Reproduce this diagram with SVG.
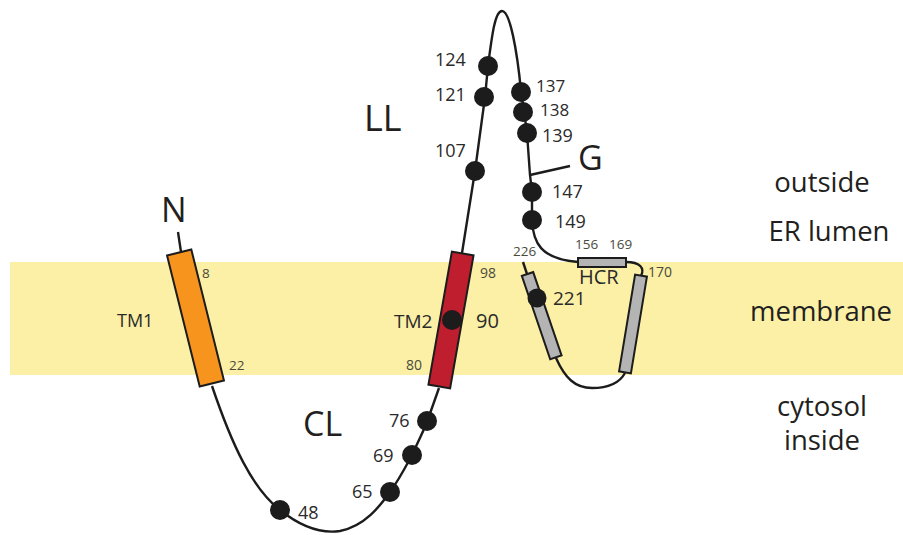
<svg xmlns="http://www.w3.org/2000/svg" width="903" height="535" viewBox="0 0 903 535">
  <style>
    .chain { fill: none; stroke: #1c1c1c; stroke-width: 2.4; }
    .site { fill: #1c1c1c; }
    .lbl { font-family: "Open Sans", "Liberation Sans", sans-serif; fill: #2a2a2a; }
    .num { font-size: 18px; }
    .tight { font-size: 17px; }
    .small { font-size: 13.5px; fill: #4a4a3c; }
    .big { font-size: 34px; fill: #231f20; }
    .side { font-size: 27.5px; fill: #231f20; text-anchor: middle; }
    .seg { stroke: #1c1c1c; stroke-width: 2; }
  </style>

  <!-- lipid bilayer band -->
  <rect id="membrane-band" x="10" y="262" width="893" height="113" fill="#fbf0a6"/>

  <!-- compartment labels -->
  <g id="compartments" class="lbl">
    <text class="side" x="822" y="192">outside</text>
    <text class="side" x="829" y="241">ER lumen</text>
    <text class="side" x="821" y="321">membrane</text>
    <text class="side" x="822" y="416">cytosol</text>
    <text class="side" x="822" y="450">inside</text>
  </g>

  <!-- polypeptide backbone -->
  <g id="connectors">
    <path class="chain" d="M178,232 L181,252"/>
    <path class="chain" d="M212,386 C232,445 252,488 280,510 C300,526 320,534 340,531 C365,526 380,506 390,492 C400,478 406,466 412,455 C418,442 423,432 427,422 L439,388"/>
    <path class="chain" d="M462,253 L475,171 L485,97 L488,66 C492,35 495,11 502,11 C510,11 517,50 521,91 L524,111 L527,133 L530,175 L532,192 L532,220 C533,242 540,259 578,262"/>
    <path class="chain" d="M530,175 L570,166"/>
    <path class="chain" d="M626,262 C640,262 645,268 641,276"/>
    <path class="chain" d="M523,262 L527,274"/>
    <path class="chain" d="M556,358 C565,378 575,388 592,388 C608,388 619,384 625,373"/>
  </g>

  <!-- N terminus -->
  <g id="n-terminus" class="lbl">
    <text class="big" x="161" y="222">N</text>
  </g>

  <!-- transmembrane helix 1 -->
  <g id="tm1">
    <rect class="seg" x="-12.5" y="-67.5" width="25" height="135" fill="#f7941d" transform="translate(195.5,318) rotate(-14)"/>
    <g class="lbl">
      <text class="small" x="202" y="278">8</text>
      <text class="small" x="229" y="370">22</text>
      <text style="font-size:18px" x="117" y="327">TM1</text>
    </g>
  </g>

  <!-- cytosolic loop -->
  <g id="cl" class="lbl">
    <text class="big" x="303" y="436">CL</text>
    <circle class="site" cx="280" cy="510" r="10"/>
    <text class="num" x="298" y="519">48</text>
    <circle class="site" cx="390" cy="492" r="10"/>
    <text class="num" x="352" y="498">65</text>
    <circle class="site" cx="412" cy="455" r="10"/>
    <text class="num" x="373" y="462">69</text>
    <circle class="site" cx="427" cy="421" r="10"/>
    <text class="num" x="389" y="427">76</text>
  </g>

  <!-- transmembrane helix 2 -->
  <g id="tm2">
    <rect class="seg" x="-11" y="-67.5" width="22" height="135" fill="#be1e2d" transform="translate(451,320) rotate(10)"/>
    <circle class="site" cx="452" cy="320" r="10"/>
    <g class="lbl">
      <text class="small" style="font-size:14px" x="480" y="278">98</text>
      <text style="font-size:20px" x="476" y="328">90</text>
      <text style="font-size:19px" x="394" y="328">TM2</text>
      <text class="small" style="font-size:14px" x="406" y="370">80</text>
    </g>
  </g>

  <!-- lumenal loop -->
  <g id="ll" class="lbl">
    <text class="big" style="font-size:36px" x="364" y="131">LL</text>
    <circle class="site" cx="475" cy="171" r="10"/>
    <text class="num" x="435" y="157">107</text>
    <circle class="site" cx="484" cy="97" r="10"/>
    <text class="num" x="435" y="101">121</text>
    <circle class="site" cx="488" cy="66" r="10"/>
    <text class="num" x="435" y="66">124</text>
    <circle class="site" cx="521" cy="92" r="10"/>
    <text class="tight lbl" x="536" y="92">137</text>
    <circle class="site" cx="523" cy="112" r="10"/>
    <text class="tight lbl" x="540" y="116">138</text>
    <circle class="site" cx="527" cy="133" r="10"/>
    <text class="num" x="542" y="142">139</text>
    <circle class="site" cx="532" cy="192" r="10"/>
    <text class="num" x="552" y="198">147</text>
    <circle class="site" cx="532" cy="220" r="10"/>
    <text class="num" x="555" y="228">149</text>
  </g>

  <!-- glycan attachment -->
  <g id="glycan" class="lbl">
    <text class="big" x="578" y="170">G</text>
  </g>

  <!-- hydrophobic C-terminal region -->
  <g id="hcr">
    <rect class="seg" x="578" y="258" width="48" height="9" fill="#b4b4b4"/>
    <g class="lbl">
      <text class="small" x="575" y="249">156</text>
      <text class="small" x="609" y="249">169</text>
      <text style="font-size:20px" x="579" y="284">HCR</text>
    </g>
  </g>

  <!-- C-terminal membrane segments -->
  <g id="c-segment-right">
    <rect class="seg" x="-6" y="-49" width="12" height="98" fill="#b4b4b4" transform="translate(633,324) rotate(9.4)"/>
    <text class="lbl small" style="font-size:14px" x="648" y="277">170</text>
  </g>
  <g id="c-segment-left">
    <rect class="seg" x="-6" y="-44" width="12" height="88" fill="#b4b4b4" transform="translate(541.7,315.7) rotate(-18.8)"/>
    <circle class="site" cx="537" cy="298" r="9.5"/>
    <g class="lbl">
      <text class="small" x="513" y="256">226</text>
      <text style="font-size:19px" x="553" y="305">221</text>
    </g>
  </g>
</svg>
